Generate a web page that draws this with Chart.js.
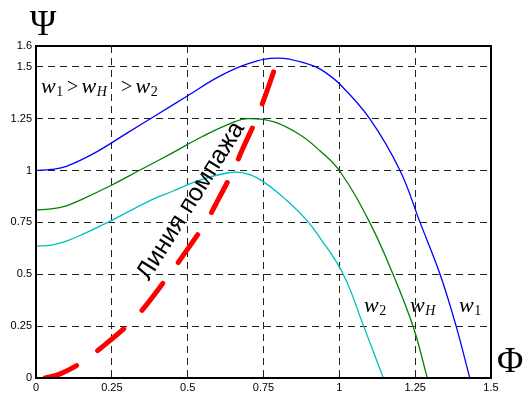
<!DOCTYPE html>
<html>
<head>
<meta charset="utf-8">
<script src="https://cdn.jsdelivr.net/npm/chart.js@4"></script>
<style>
  body { margin: 0; background: #fff; }
  #wrap { width: 528px; height: 397px; }
</style>
</head>
<body>
<div id="wrap"><canvas id="chartPompazh"></canvas></div>
<script>
'use strict';

// tick labels
const phiTicks = [0, 0.25, 0.5, 0.75, 1, 1.25, 1.5];
const psiTicks = [0, 0.25, 0.5, 0.75, 1, 1.25, 1.5, 1.6];

// w1
const phiW1 = [0, 0.05, 0.1, 0.2, 0.3, 0.4, 0.5, 0.6, 0.7, 0.8, 0.9, 0.94, 1.0, 1.1, 1.2, 1.266, 1.332, 1.385, 1.43];
const psiW1 = [1.0, 1.005, 1.02, 1.09, 1.18, 1.27, 1.36, 1.45, 1.515, 1.542, 1.512, 1.486, 1.418, 1.25, 1.0, 0.75, 0.5, 0.25, 0];

// wH
const phiWH = [0, 0.05, 0.1, 0.15, 0.25, 0.34, 0.45, 0.55, 0.65, 0.7, 0.785, 0.87, 0.936, 1.0, 1.1, 1.177, 1.245, 1.29];
const psiWH = [0.81, 0.815, 0.83, 0.86, 0.93, 1.0, 1.085, 1.165, 1.232, 1.25, 1.234, 1.172, 1.095, 1.0, 0.75, 0.5, 0.24, 0];

// w2
const phiW2 = [0, 0.05, 0.1, 0.15, 0.25, 0.376, 0.45, 0.54, 0.63, 0.68, 0.74, 0.826, 0.892, 0.93, 1.013, 1.08, 1.145];
const psiW2 = [0.636, 0.64, 0.66, 0.69, 0.76, 0.855, 0.9, 0.954, 0.988, 0.99, 0.955, 0.857, 0.761, 0.689, 0.5, 0.25, 0];

// линия помпажа
const phiSurge = [0.03, 0.08, 0.153, 0.21, 0.31, 0.36, 0.44, 0.48, 0.56, 0.59, 0.65, 0.68, 0.735, 0.8];
const psiSurge = [0, 0.02, 0.077, 0.14, 0.265, 0.345, 0.5, 0.58, 0.75, 0.83, 1.0, 1.10, 1.28, 1.545];

function pts(xs, ys) {
  return xs.map(function(x, i) { return { x: x, y: ys[i] }; });
}

function drawW(ctx, x, y, sub, subItalic) {
  ctx.font = 'italic 22px "Liberation Serif"';
  ctx.fillText('w', x, y);
  const w = ctx.measureText('w').width;
  ctx.font = (subItalic ? 'italic ' : '') + '14px "Liberation Serif"';
  ctx.fillText(sub, x + w + 0.5, y + 3);
}

const labelsPlugin = {
  id: 'labels',
  afterDatasetsDraw: function(chart) {
    const ctx = chart.ctx;
    const a = chart.chartArea;
    ctx.save();
    ctx.strokeStyle = '#000';
    ctx.lineWidth = 2;
    ctx.strokeRect(a.left, a.top, a.right - a.left, a.bottom - a.top);
    ctx.restore();
  },
  afterDraw: function(chart) {
    const ctx = chart.ctx;
    ctx.save();
    ctx.fillStyle = '#000';
    ctx.textBaseline = 'alphabetic';
    ctx.textAlign = 'left';

    // w1 > wH > w2
    drawW(ctx, 41, 93, '1', false);
    ctx.font = '20px "Liberation Serif"';
    ctx.fillText('>', 67, 93);
    drawW(ctx, 81.5, 93, 'H', true);
    ctx.font = '20px "Liberation Serif"';
    ctx.fillText('>', 121, 93);
    drawW(ctx, 135.5, 93, '2', false);

    // curve names
    drawW(ctx, 364, 312, '2', false);
    drawW(ctx, 410, 312, 'H', true);
    drawW(ctx, 459, 312, '1', false);

    // axis names
    ctx.font = '36px "Liberation Serif"';
    ctx.textAlign = 'center';
    ctx.fillText('Ψ', 43, 35);
    ctx.textAlign = 'left';
    ctx.fillText('Φ', 497, 372);

    // surge line caption
    ctx.translate(191, 201);
    ctx.rotate(-58 * Math.PI / 180);
    ctx.font = '25px "Liberation Sans"';
    ctx.textAlign = 'center';
    ctx.textBaseline = 'middle';
    ctx.fillText('Линия помпажа', 0, 0);
    ctx.restore();
  }
};

Chart.defaults.font.family = '"Liberation Sans", Arial, sans-serif';
Chart.defaults.font.size = 11;
Chart.defaults.color = '#000';

new Chart(document.getElementById('chartPompazh'), {
  type: 'scatter',
  data: {
    datasets: [
      {
        label: 'Линия помпажа',
        data: pts(phiSurge, psiSurge),
        borderColor: '#ff0000',
        borderWidth: 5,
        borderDash: [34, 26],
        borderCapStyle: 'round',
        order: 0
      },
      {
        label: 'w1',
        data: pts(phiW1, psiW1),
        borderColor: '#0000ff',
        borderWidth: 1.3,
        order: 1
      },
      {
        label: 'wH',
        data: pts(phiWH, psiWH),
        borderColor: '#008000',
        borderWidth: 1.3,
        order: 2
      },
      {
        label: 'w2',
        data: pts(phiW2, psiW2),
        borderColor: '#00bfbf',
        borderWidth: 1.3,
        order: 3
      }
    ]
  },
  options: {
    responsive: true,
    maintainAspectRatio: false,
    animation: false,
    showLine: true,
    elements: {
      point: { radius: 0, hoverRadius: 0 },
      line: { tension: 0.4, fill: false }
    },
    layout: { padding: { left: 0, top: 46, right: 37, bottom: 0 } },
    plugins: {
      legend: { display: false },
      tooltip: { enabled: false }
    },
    scales: {
      x: {
        type: 'linear',
        min: 0,
        max: 1.5,
        afterBuildTicks: function(scale) {
          scale.ticks = phiTicks.map(function(v) { return { value: v }; });
        },
        afterFit: function(scale) { scale.height = 19; },
        ticks: {
          padding: 3,
          maxRotation: 0,
          autoSkip: false,
          callback: function(v) { return String(v); }
        },
        grid: { color: '#222', lineWidth: 1, drawTicks: false },
        border: { display: false, dash: [7, 5] }
      },
      y: {
        type: 'linear',
        min: 0,
        max: 1.6,
        afterBuildTicks: function(scale) {
          scale.ticks = psiTicks.map(function(v) { return { value: v }; });
        },
        afterFit: function(scale) { scale.width = 36; },
        ticks: {
          padding: 4,
          autoSkip: false,
          callback: function(v) { return String(v); }
        },
        grid: { color: '#222', lineWidth: 1, drawTicks: false },
        border: { display: false, dash: [7, 5] }
      }
    }
  },
  plugins: [labelsPlugin]
});
</script>
</body>
</html>
